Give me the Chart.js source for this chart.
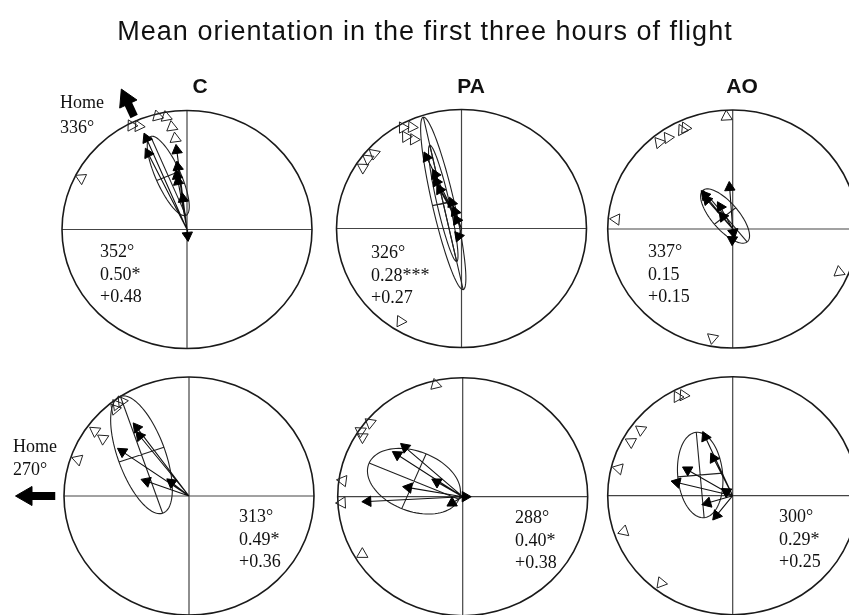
<!DOCTYPE html>
<html>
<head>
<meta charset="utf-8">
<script src="https://cdn.jsdelivr.net/npm/chart.js@4.4.1/dist/chart.umd.min.js"></script>
<style>
html, body { margin: 0; padding: 0; background: #fff; }
#wrap { position: relative; width: 849px; height: 615px; }
</style>
</head>
<body>
<div id="wrap"><canvas id="chart" width="849" height="615"></canvas></div>
<script>
// bearings in degrees (0 = up, clockwise), lengths as a fraction of the circle radius
var panelNames = ['C', 'PA', 'AO'];
var homeDeg = [336, 270];

// mean vectors of single birds: [bearing, length]
var arrowsC1 = [[337, 0.83], [334, 0.71], [353, 0.67], [352, 0.53], [350, 0.46], [350, 0.41], [353, 0.26], [175, 0.05]];
var arrowsPA1 = [[335, 0.66], [335, 0.50], [333, 0.44], [332, 0.37], [340, 0.23], [340, 0.15], [332, 0.08], [200, 0.07]];
var arrowsAO1 = [[356, 0.35], [322, 0.36], [320, 0.32], [332, 0.21], [323, 0.13], [170, 0.03], [182, 0.09]];
var arrowsC2 = [[324, 0.71], [322, 0.64], [305, 0.65], [290, 0.36], [309, 0.18]];
var arrowsPA2 = [[312, 0.62], [304, 0.63], [301, 0.24], [280, 0.44], [267, 0.76], [238, 0.10], [90, 0.02]];
var arrowsAO2 = [[336, 0.54], [334, 0.35], [301, 0.42], [284, 0.46], [253, 0.21], [218, 0.21], [304, 0.06]];

// vanishing bearings (open triangles): [bearing, stacked radius]
var birdsC1 = [[333, 0.98], [336, 0.95], [346, 0.98], [350, 0.96], [352, 0.87], [353, 0.77], [297, 0.95]];
var birdsPA1 = [[331, 0.97], [335, 0.94], [330, 0.89], [333, 0.84], [303, 0.94], [308, 0.95], [312, 0.94], [212, 0.92]];
var birdsAO1 = [[357, 0.945], [321, 0.935], [326, 0.925], [334, 0.924], [336, 0.93], [275, 0.937], [190, 0.93], [113, 0.925]];
var birdsC2 = [[323, 0.96], [326, 0.96], [321, 0.94], [306, 0.93], [305, 0.84], [289, 0.94]];
var birdsPA2 = [[347, 0.965], [310, 0.966], [304, 0.985], [302, 0.945], [278, 0.968], [267, 0.967], [239, 0.937]];
var birdsAO2 = [[332, 0.94], [335, 0.93], [307, 0.92], [299, 0.93], [284, 0.94], [251, 0.92], [218, 0.93]];

// confidence ellipses: [centre x, centre y, semi-major, semi-minor, bearing of major axis]
var ellipsesC1 = [[-0.15, 0.45, 0.36, 0.10, 337]];
var ellipsesPA1 = [[-0.146, 0.211, 0.742, 0.088, 347.6], [-0.146, 0.211, 0.5, 0.05, 347.6]];
var ellipsesAO1 = [[-0.061, 0.109, 0.28, 0.11, 321]];
var ellipsesC2 = [[-0.38, 0.347, 0.52, 0.19, 341]];
var ellipsesPA2 = [[-0.39, 0.13, 0.39, 0.25, 293]];
var ellipsesAO2 = [[-0.26, 0.174, 0.36, 0.18, 355]];

// mean direction, r, homeward component
var statsC1 = ['352°', '0.50*', '+0.48'];
var statsPA1 = ['326°', '0.28***', '+0.27'];
var statsAO1 = ['337°', '0.15', '+0.15'];
var statsC2 = ['313°', '0.49*', '+0.36'];
var statsPA2 = ['288°', '0.40*', '+0.38'];
var statsAO2 = ['300°', '0.29*', '+0.25'];

// ---- layout ----
var W = 849, H = 615, RX = 125, RY = 119;
var centerX = [187, 461.5, 732.7, 189, 462.7, 732.7];
var centerY = [229.5, 228.5, 229, 496, 496.7, 495.7];
var statPos = [[100, 257], [371, 258], [648, 257], [239, 522], [515, 523], [779, 522]];

var panels = [
  { arrows: arrowsC1, birds: birdsC1, ellipses: ellipsesC1, stats: statsC1 },
  { arrows: arrowsPA1, birds: birdsPA1, ellipses: ellipsesPA1, stats: statsPA1 },
  { arrows: arrowsAO1, birds: birdsAO1, ellipses: ellipsesAO1, stats: statsAO1 },
  { arrows: arrowsC2, birds: birdsC2, ellipses: ellipsesC2, stats: statsC2 },
  { arrows: arrowsPA2, birds: birdsPA2, ellipses: ellipsesPA2, stats: statsPA2 },
  { arrows: arrowsAO2, birds: birdsAO2, ellipses: ellipsesAO2, stats: statsAO2 }
];

function toXY(deg, r) {
  var t = deg * Math.PI / 180;
  return { x: r * Math.sin(t), y: r * Math.cos(t) };
}
function screenRot(p) {
  return Math.atan2(p.x * RX, p.y * RY) * 180 / Math.PI;
}

var scales = {};
var datasets = [];
panels.forEach(function (p, i) {
  scales['x' + i] = { type: 'linear', display: false, min: -centerX[i] / RX, max: (W - centerX[i]) / RX };
  scales['y' + i] = { type: 'linear', display: false, min: -(H - centerY[i]) / RY, max: centerY[i] / RY };

  var arr = [];
  p.arrows.forEach(function (a) {
    var q = toXY(a[0], a[1]);
    arr.push({ x: 0, y: 0 });
    arr.push({ x: q.x, y: q.y, head: true, rot: screenRot(q) });
    arr.push({ x: 0, y: null });
  });
  datasets.push({
    data: arr, xAxisID: 'x' + i, yAxisID: 'y' + i,
    showLine: true, spanGaps: false, borderColor: '#111', borderWidth: 1.1,
    pointStyle: 'triangle', pointBackgroundColor: '#000', pointBorderColor: '#000', pointBorderWidth: 1,
    pointRadius: function (c) { return c.raw && c.raw.head ? 6 : 0; },
    pointRotation: function (c) { return c.raw && c.raw.rot ? c.raw.rot : 0; }
  });

  datasets.push({
    data: p.birds.map(function (b) {
      var q = toXY(b[0], b[1]);
      return { x: q.x, y: q.y, rot: screenRot(q) };
    }),
    xAxisID: 'x' + i, yAxisID: 'y' + i, showLine: false,
    pointStyle: 'triangle', pointRadius: 6.5, pointBorderWidth: 1,
    pointBorderColor: '#222', pointBackgroundColor: 'rgba(255,255,255,0)',
    pointRotation: function (c) { return c.raw ? c.raw.rot : 0; }
  });
});

// thick "Home" arrows next to the first panel of each row
[[0, homeDeg[0], 1.04, 1.20], [3, homeDeg[1], 1.07, 1.30]].forEach(function (h) {
  var a = toXY(h[1], h[2]), b = toXY(h[1], h[3]);
  datasets.push({
    data: [{ x: a.x, y: a.y }, { x: b.x, y: b.y, head: true, rot: screenRot(b) }],
    xAxisID: 'x' + h[0], yAxisID: 'y' + h[0], showLine: true,
    borderColor: '#000', borderWidth: 8, borderCapStyle: 'butt',
    pointStyle: 'triangle', pointBackgroundColor: '#000', pointBorderColor: '#000', pointBorderWidth: 1,
    pointRadius: function (c) { return c.raw && c.raw.head ? 11 : 0; },
    pointRotation: function (c) { return c.raw && c.raw.rot ? c.raw.rot : 0; }
  });
});

var compassPlugin = {
  id: 'compass',
  beforeDatasetsDraw: function (chart) {
    var ctx = chart.ctx;
    panels.forEach(function (p, i) {
      var xs = chart.scales['x' + i], ys = chart.scales['y' + i];
      var cx = xs.getPixelForValue(0), cy = ys.getPixelForValue(0);
      var rx = xs.getPixelForValue(1) - cx, ry = cy - ys.getPixelForValue(1);
      ctx.save();
      ctx.strokeStyle = '#444';
      ctx.lineWidth = 1.2;
      ctx.beginPath();
      ctx.moveTo(cx - rx, cy); ctx.lineTo(cx + rx, cy);
      ctx.moveTo(cx, cy - ry); ctx.lineTo(cx, cy + ry);
      ctx.stroke();
      ctx.strokeStyle = '#1a1a1a';
      ctx.lineWidth = 1.6;
      ctx.beginPath();
      ctx.ellipse(cx, cy, rx, ry, 0, 0, 2 * Math.PI);
      ctx.stroke();

      ctx.strokeStyle = '#222';
      ctx.lineWidth = 1.1;
      p.ellipses.forEach(function (e) {
        var t = e[4] * Math.PI / 180;
        var ux = Math.sin(t), uy = Math.cos(t), vx = Math.cos(t), vy = -Math.sin(t);
        function px(a, b) {
          return [xs.getPixelForValue(e[0] + a * ux + b * vx), ys.getPixelForValue(e[1] + a * uy + b * vy)];
        }
        ctx.beginPath();
        for (var k = 0; k <= 90; k++) {
          var s = k / 90 * 2 * Math.PI;
          var q = px(e[2] * Math.cos(s), e[3] * Math.sin(s));
          if (k === 0) ctx.moveTo(q[0], q[1]); else ctx.lineTo(q[0], q[1]);
        }
        var m1 = px(e[2], 0), m2 = px(-e[2], 0), n1 = px(0, e[3]), n2 = px(0, -e[3]);
        ctx.moveTo(m1[0], m1[1]); ctx.lineTo(m2[0], m2[1]);
        ctx.moveTo(n1[0], n1[1]); ctx.lineTo(n2[0], n2[1]);
        ctx.stroke();
      });
      ctx.restore();
    });
  },
  afterDraw: function (chart) {
    var ctx = chart.ctx;
    ctx.save();
    ctx.fillStyle = '#111';
    ctx.textBaseline = 'alphabetic';
    ctx.textAlign = 'center';
    ctx.font = '27px "Liberation Sans", Arial, sans-serif';
    if ('letterSpacing' in ctx) ctx.letterSpacing = '1px';
    ctx.fillText('Mean orientation in the first three hours of flight', 425, 40);
    if ('letterSpacing' in ctx) ctx.letterSpacing = '0px';
    ctx.font = 'bold 21px "Liberation Sans", Arial, sans-serif';
    ctx.fillText(panelNames[0], 200, 93);
    ctx.fillText(panelNames[1], 471, 93);
    ctx.fillText(panelNames[2], 742, 93);

    ctx.textAlign = 'left';
    ctx.font = '18px "Liberation Serif", "Times New Roman", serif';
    panels.forEach(function (p, i) {
      p.stats.forEach(function (s, k) {
        ctx.fillText(s, statPos[i][0], statPos[i][1] + k * 22.5);
      });
    });
    ctx.fillText('Home', 60, 108);
    ctx.fillText(homeDeg[0] + '°', 60, 133);
    ctx.fillText('Home', 13, 452);
    ctx.fillText(homeDeg[1] + '°', 13, 475);
    ctx.restore();
  }
};

new Chart(document.getElementById('chart'), {
  type: 'scatter',
  data: { datasets: datasets },
  options: {
    responsive: false,
    animation: false,
    events: [],
    devicePixelRatio: 1,
    layout: { padding: 0, autoPadding: false },
    plugins: { legend: { display: false }, tooltip: { enabled: false }, title: { display: false } },
    scales: scales
  },
  plugins: [compassPlugin]
});
</script>
</body>
</html>
